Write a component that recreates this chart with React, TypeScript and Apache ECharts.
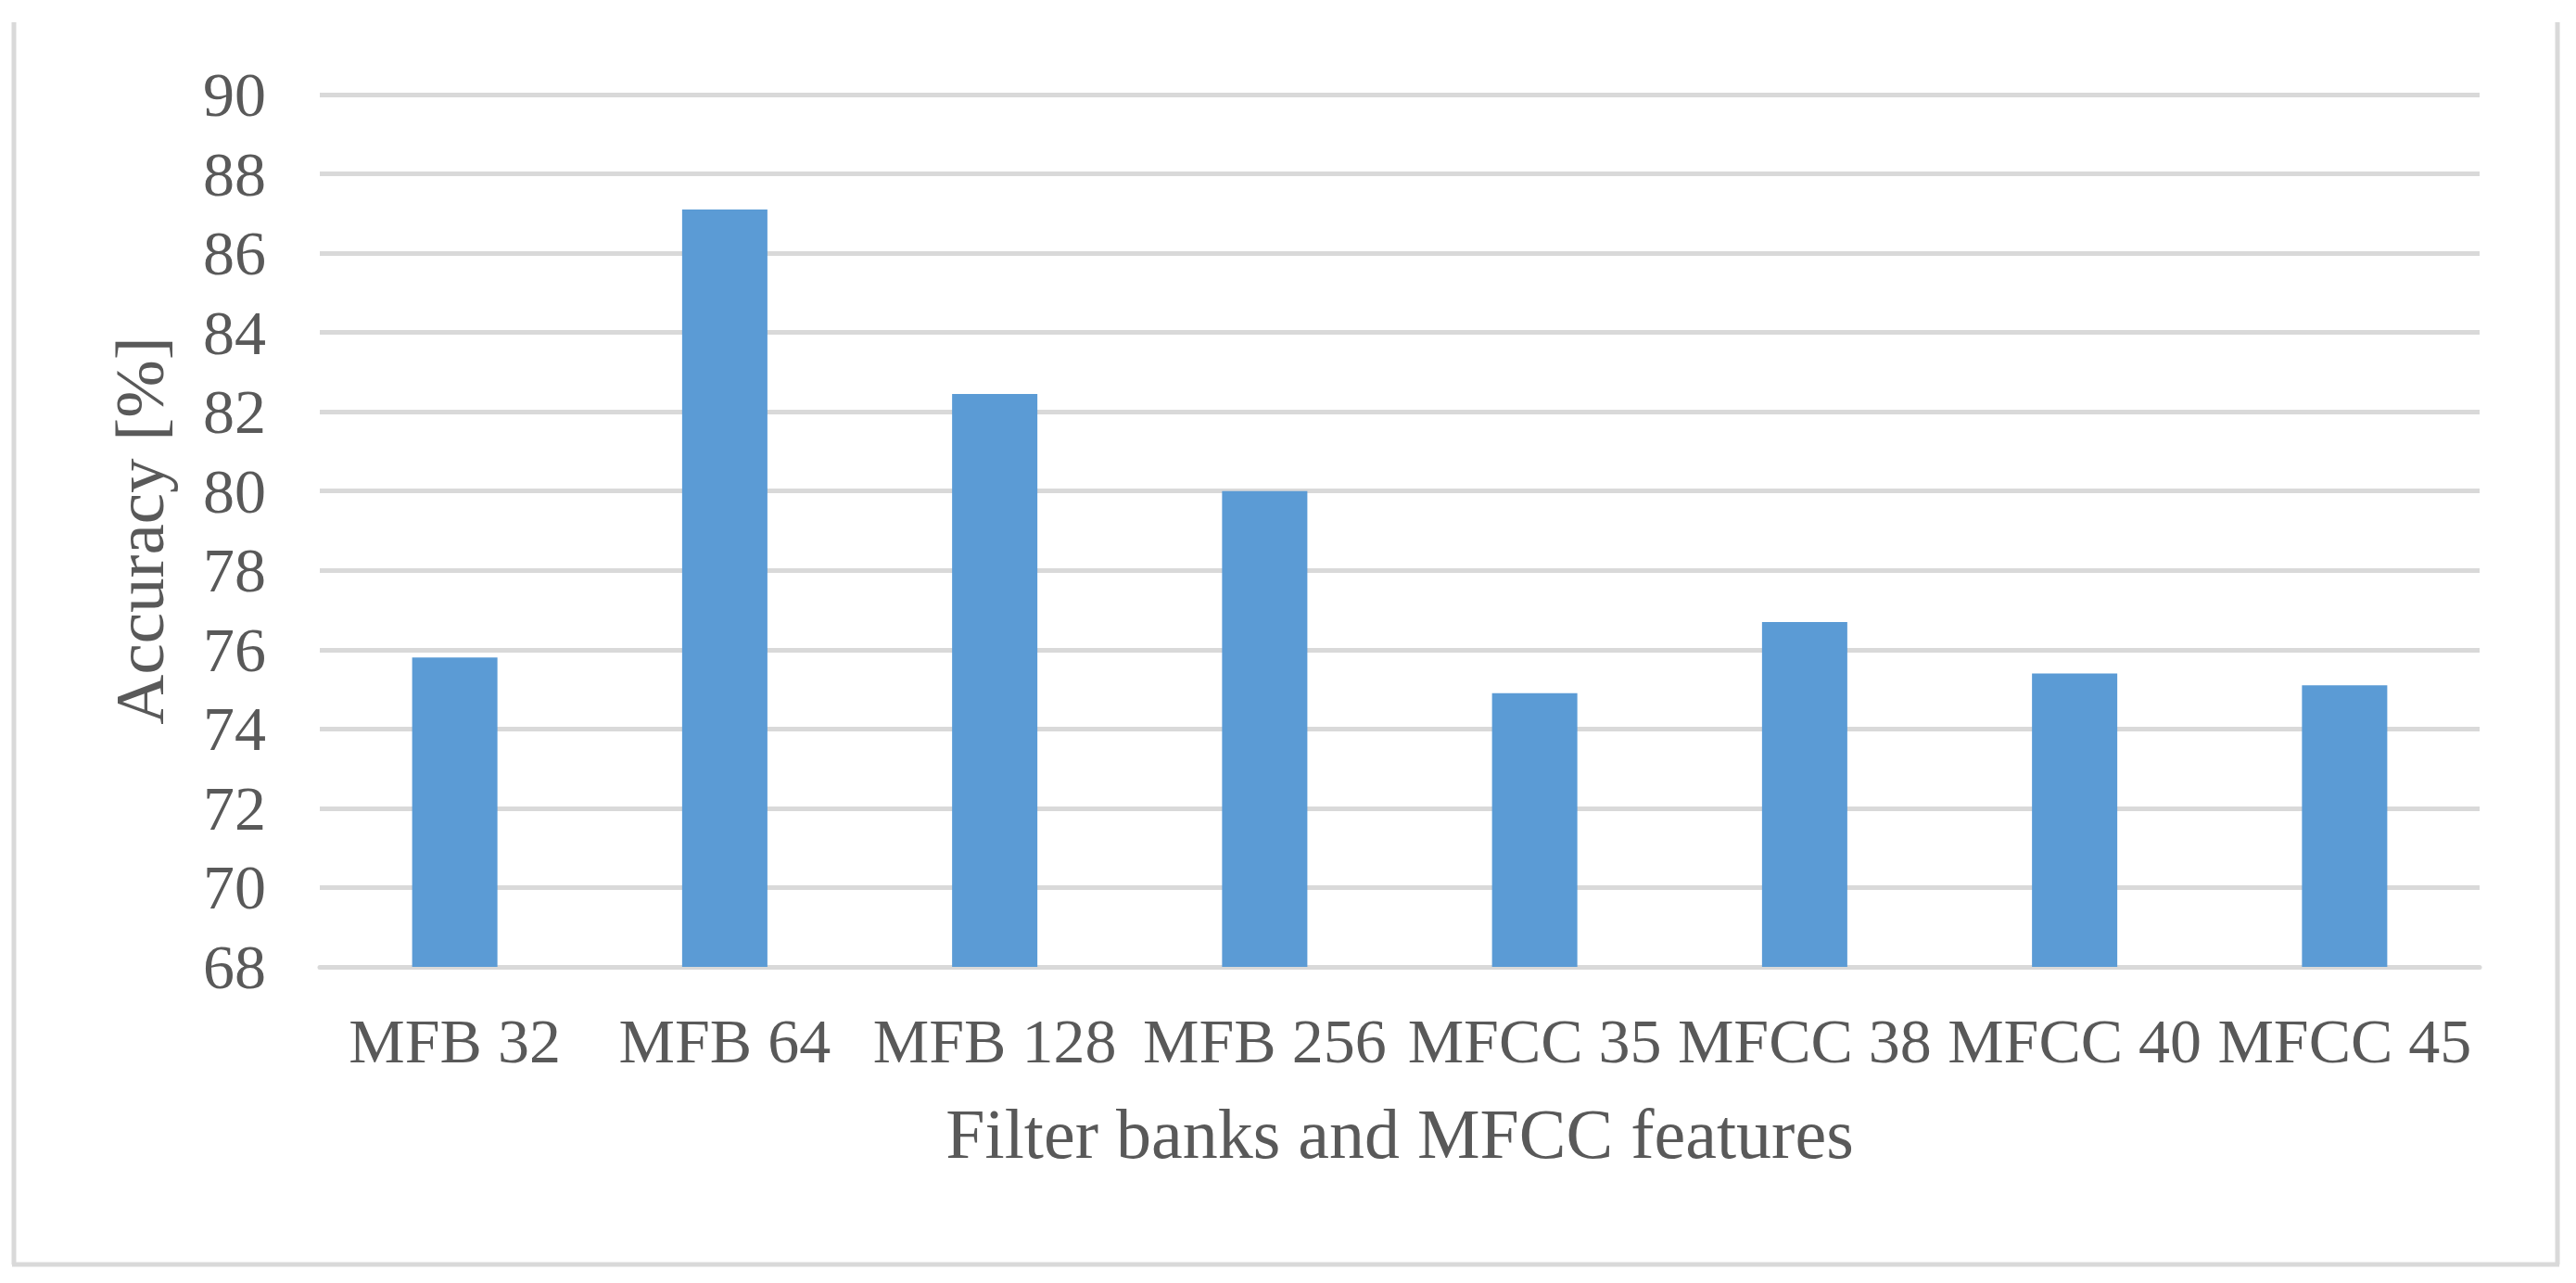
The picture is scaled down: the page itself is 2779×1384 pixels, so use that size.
import React, { useEffect, useRef } from "react";
import * as echarts from "echarts";

const categories = ["MFB 32", "MFB 64", "MFB 128", "MFB 256", "MFCC 35", "MFCC 38", "MFCC 40", "MFCC 45"];
const accuracy = [75.8, 87.1, 82.45, 80.0, 74.9, 76.7, 75.4, 75.1];
const yMin = 68;
const yMax = 90;
const yStep = 2;
const xTitle = "Filter banks and MFCC features";
const yTitle = "Accuracy [%]";

const FONT = "'Liberation Serif', 'Times New Roman', serif";
const TEXT = "#595959";
const GRIDC = "#D9D9D9";

export default function App() {
  const ref = useRef<HTMLDivElement>(null);
  useEffect(() => {
    if (!ref.current) return;
    const chart = echarts.init(ref.current, undefined, { renderer: "svg" });
    chart.setOption({
      animation: false,
      backgroundColor: "#ffffff",
      textStyle: { fontFamily: FONT, color: TEXT },
      grid: { left: 345, right: 104, top: 102, bottom: 341, containLabel: false },
      xAxis: {
        type: "category",
        data: categories,
        axisTick: { show: false },
        axisLine: { show: true, lineStyle: { color: GRIDC, width: 5 } },
        axisLabel: { color: TEXT, fontFamily: FONT, fontSize: 68, margin: 46, interval: 0 },
        name: xTitle,
        nameLocation: "middle",
        nameGap: 142,
        nameTextStyle: { color: TEXT, fontFamily: FONT, fontSize: 76 },
      },
      yAxis: {
        type: "value",
        min: yMin,
        max: yMax,
        interval: yStep,
        axisLine: { show: false },
        axisTick: { show: false },
        splitLine: { show: true, lineStyle: { color: GRIDC, width: 5 } },
        axisLabel: { color: TEXT, fontFamily: FONT, fontSize: 68, margin: 58 },
        name: yTitle,
        nameLocation: "middle",
        nameGap: 157,
        nameRotate: 90,
        nameTextStyle: { color: TEXT, fontFamily: FONT, fontSize: 75 },
      },
      series: [
        {
          type: "bar",
          data: accuracy,
          barWidth: 92,
          itemStyle: { color: "#5B9BD5" },
        },
      ],
      graphic: [
        { type: "line", shape: { x1: 15, y1: 24, x2: 15, y2: 1364 }, style: { stroke: GRIDC, lineWidth: 5 } },
        { type: "line", shape: { x1: 13, y1: 1364, x2: 2761, y2: 1364 }, style: { stroke: GRIDC, lineWidth: 5 } },
        { type: "line", shape: { x1: 2759, y1: 24, x2: 2759, y2: 1364 }, style: { stroke: GRIDC, lineWidth: 5 } },
      ],
    });
    return () => chart.dispose();
  }, []);
  return (
    <div
      ref={ref}
      style={{ position: "fixed", left: 0, top: 0, width: 2779, height: 1384, background: "#fff" }}
    />
  );
}
